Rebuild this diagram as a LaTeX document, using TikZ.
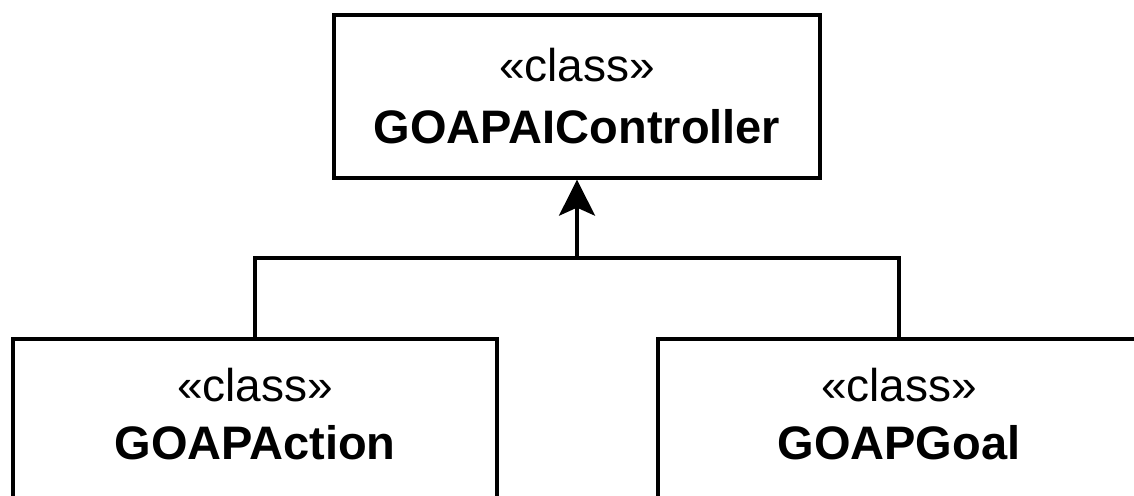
\documentclass[tikz,border=0pt]{standalone}
\usepackage{fontspec}
\setmainfont{Liberation Sans}
\usetikzlibrary{arrows.meta,calc}
\begin{document}
\begin{tikzpicture}[x=1pt,y=-1pt,
  classbox/.style={draw=black, line width=3.3pt, fill=white,
    minimum width=486pt, minimum height=163pt, inner sep=0pt},
  stereo/.style={anchor=base, inner sep=0pt, font=\fontsize{46}{46}\selectfont},
  cname/.style={anchor=base, inner sep=0pt, font=\fontsize{47}{47}\selectfont\bfseries},
  link/.style={draw=black, line width=3.3pt},
  inherit/.style={link, -{Stealth[length=36pt,width=36pt,inset=8pt]}}]
\useasboundingbox (0,0) rectangle (1134,495);
\clip (0,0) rectangle (1134,495);

% class boxes
\node[classbox] (ctrl) at (577,96.5) {};
\node[classbox, minimum width=484pt] (act) at (255,420.5) {};
\node[classbox, minimum width=482pt] (goal) at (899,420.5) {};

% class labels
\node[stereo] (ctrl-s) at ($(ctrl.north)+(0,68)$) {«class»};
\node[cname]  (ctrl-n) at ($(ctrl.north)+(0,130)$) {GOAPAIController};
\node[stereo] (act-s)  at ($(act.north)+(0,64)$) {«class»};
\node[cname]  (act-n)  at ($(act.north)+(0,122)$) {GOAPAction};
\node[stereo] (goal-s) at ($(goal.north)+(0,64)$) {«class»};
\node[cname]  (goal-n) at ($(goal.north)+(0,122)$) {GOAPGoal};

% generalisation connectors
\coordinate (j) at (577,258);
\draw[link] (act.north) |- (j);
\draw[link] (goal.north) |- (j);
\draw[inherit] (j) -- (ctrl.south);
\end{tikzpicture}
\end{document}
